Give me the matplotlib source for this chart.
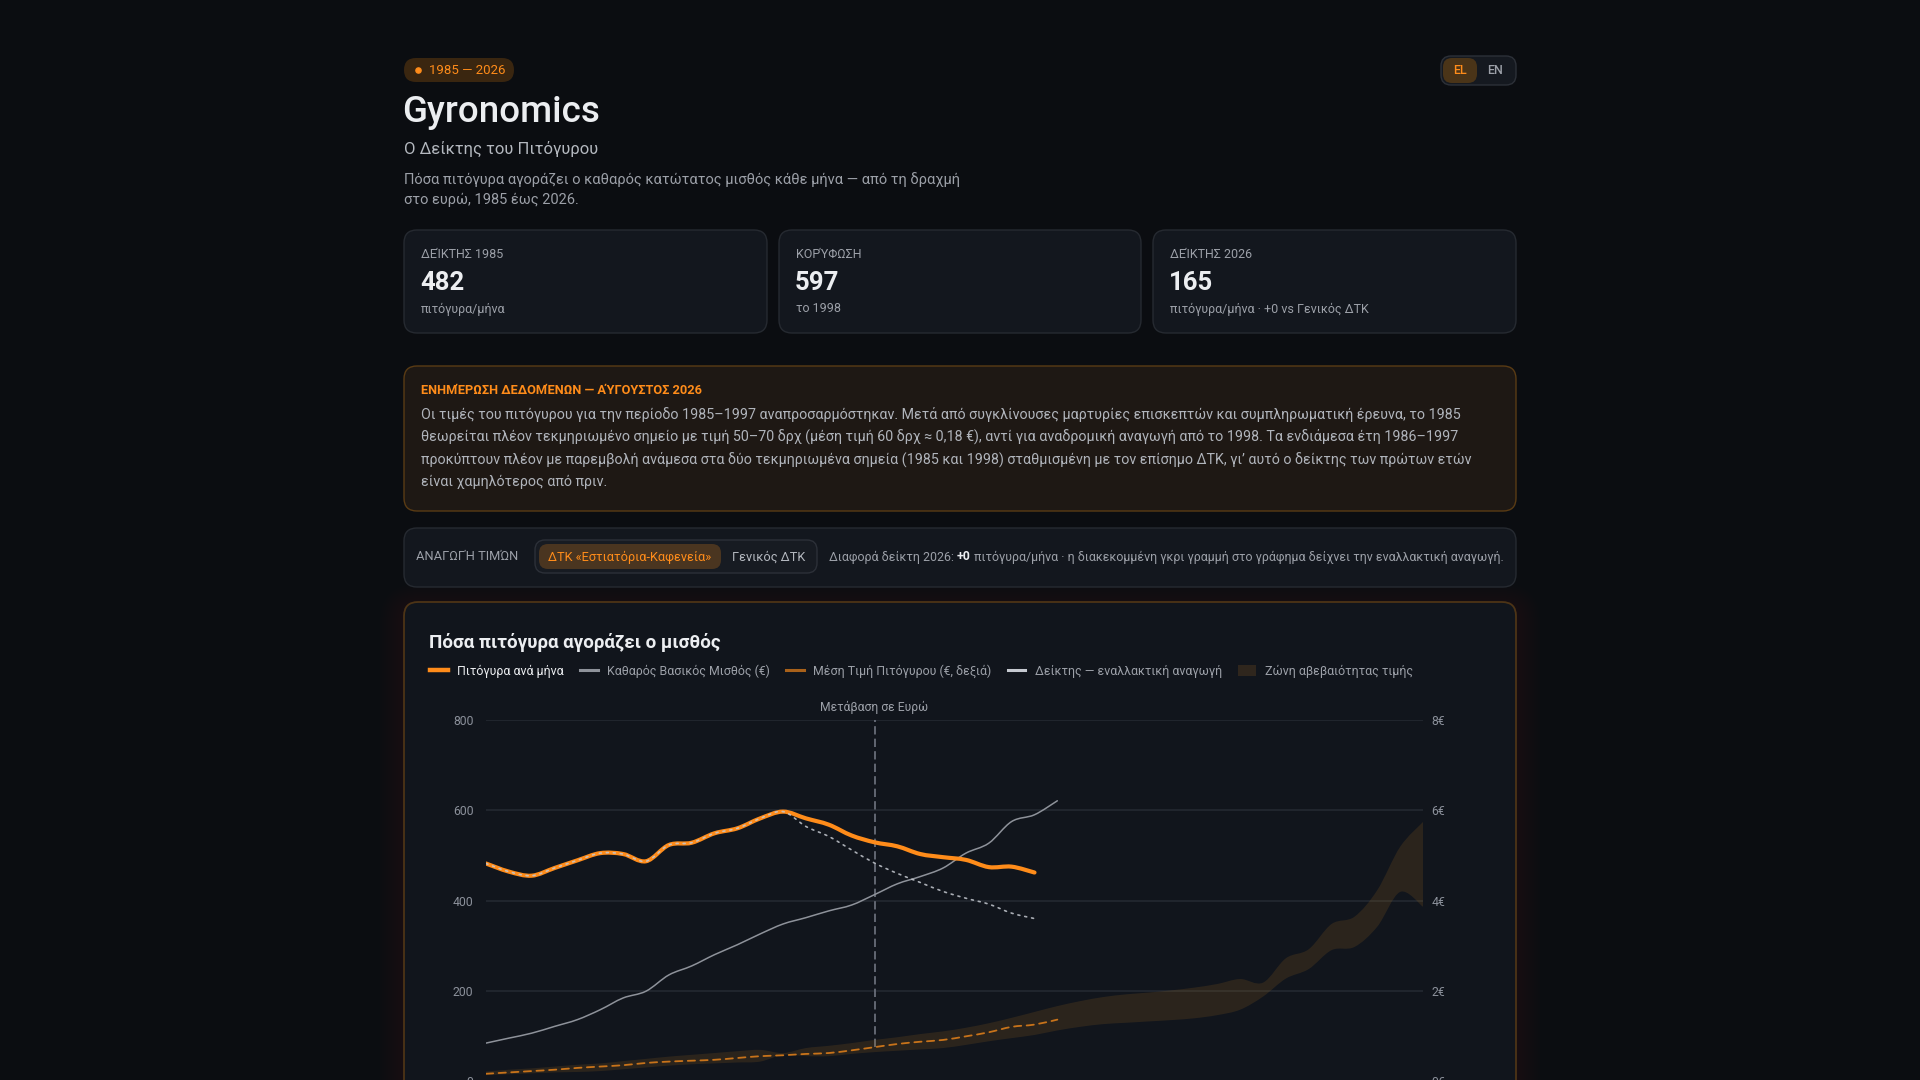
import numpy as np
import matplotlib.pyplot as plt
from matplotlib.patches import FancyBboxPatch, PathPatch, Patch
from matplotlib.lines import Line2D
from matplotlib.path import Path

plt.rcParams['font.family'] = ['Roboto', 'DejaVu Sans']

# -------------------------
# Data
# -------------------------
BAND_YEARS = list(range(1985, 2027))
INDEX_YEARS = list(range(1985, 2010))
SALARY_YEARS = list(range(1985, 2011))
PRICE_YEARS = list(range(1985, 2011))
EURO_YEAR = 2002

# pitogyra per month
index_values = [482, 464, 455, 472, 489, 505, 503, 487, 523, 528, 549, 560, 582,
                597, 582, 568, 544, 529, 520, 503, 496, 490, 474, 475, 462]
# alternative deflation (dotted grey)
alt_index_values = [482, 464, 455, 472, 489, 505, 503, 487, 523, 528, 549, 560, 582,
                    597, 564, 542, 512, 483, 460, 440, 420, 405, 392, 372, 360]
# net minimum wage (EUR, left axis)
salary_values = [84, 95, 106, 121, 136, 158, 184, 199, 235, 255, 280, 302, 326,
                 348, 362, 377, 390, 413, 437, 453, 472, 505, 527, 575, 590, 621]
# average gyro price (EUR, right axis)
price_values = [0.16, 0.19, 0.22, 0.25, 0.29, 0.32, 0.35, 0.40, 0.43, 0.45, 0.47, 0.51, 0.55,
                0.57, 0.60, 0.62, 0.68, 0.75, 0.82, 0.87, 0.91, 0.99, 1.08, 1.20, 1.25, 1.36]
# price uncertainty band (EUR, right axis)
band_upper = [0.21, 0.25, 0.28, 0.32, 0.36, 0.39, 0.44, 0.49, 0.54, 0.58,
              0.62, 0.66, 0.69, 0.62, 0.73, 0.78, 0.84, 0.91, 0.97, 1.04,
              1.10, 1.18, 1.28, 1.40, 1.53, 1.66, 1.77, 1.86, 1.92, 1.96,
              2.01, 2.07, 2.15, 2.26, 2.18, 2.72, 2.92, 3.48, 3.64, 4.23,
              5.19, 5.74]
band_lower = [0.13, 0.15, 0.17, 0.19, 0.20, 0.22, 0.26, 0.30, 0.34, 0.37,
              0.39, 0.41, 0.43, 0.58, 0.55, 0.55, 0.60, 0.64, 0.67, 0.70,
              0.73, 0.80, 0.88, 0.95, 1.02, 1.12, 1.20, 1.26, 1.29, 1.32,
              1.35, 1.39, 1.46, 1.58, 1.87, 2.27, 2.48, 2.90, 2.97, 3.42,
              4.19, 3.86]

left_ticks = [0, 200, 400, 600, 800]
right_ticks = [0, 2, 4, 6, 8]

stat_cards = [
    ("ΔΕΊΚΤΗΣ 1985", "482", "πιτόγυρα/μήνα"),
    ("ΚΟΡΎΦΩΣΗ", "597", "το 1998"),
    ("ΔΕΊΚΤΗΣ 2026", "165", "πιτόγυρα/μήνα · +0 vs Γενικός ΔΤΚ"),
]

notice_lines = [
    "Οι τιμές του πιτόγυρου για την περίοδο 1985–1997 αναπροσαρμόστηκαν. Μετά από συγκλίνουσες μαρτυρίες επισκεπτών και συμπληρωματική έρευνα, το 1985",
    "θεωρείται πλέον τεκμηριωμένο σημείο με τιμή 50–70 δρχ (μέση τιμή 60 δρχ ≈ 0,18 €), αντί για αναδρομική αναγωγή από το 1998. Τα ενδιάμεσα έτη 1986–1997",
    "προκύπτουν πλέον με παρεμβολή ανάμεσα στα δύο τεκμηριωμένα σημεία (1985 και 1998) σταθμισμένη με τον επίσημο ΔΤΚ, γι’ αυτό ο δείκτης των πρώτων ετών",
    "είναι χαμηλότερος από πριν.",
]

# -------------------------
# Colours
# -------------------------
BG = '#0b0d11'
CARD = '#13171e'
CARD_EDGE = '#262a31'
ORANGE = '#ff8c1a'
PRICE_C = '#c8731a'
GREY = '#8e929a'
ALT_C = '#c5c9d0'
TXT = '#eceef1'
MUTED = '#9ca0a8'


def smooth_path(xs, ys):
    """Catmull-Rom style cubic bezier through the points."""
    xs = np.asarray(xs, float)
    ys = np.asarray(ys, float)
    n = len(xs)
    verts = [(xs[0], ys[0])]
    codes = [Path.MOVETO]
    for i in range(n - 1):
        a = i - 1 if i > 0 else i
        d = i + 2 if i + 2 < n else i + 1
        c1 = (xs[i] + (xs[i + 1] - xs[a]) / 6, ys[i] + (ys[i + 1] - ys[a]) / 6)
        c2 = (xs[i + 1] - (xs[d] - xs[i]) / 6, ys[i + 1] - (ys[d] - ys[i]) / 6)
        verts += [c1, c2, (xs[i + 1], ys[i + 1])]
        codes += [Path.CURVE4] * 3
    return verts, codes


def add_curve(ax, xs, ys, **kw):
    verts, codes = smooth_path(xs, ys)
    ax.add_patch(PathPatch(Path(verts, codes), fill=False, capstyle='round',
                           joinstyle='round', **kw))


def rbox(ax, x0, y0, x1, y1, r, fc, ec='none', lw=1.0, z=1, alpha=1.0):
    ax.add_patch(FancyBboxPatch((x0, y0), x1 - x0, y1 - y0,
                                boxstyle=f"round,pad=0,rounding_size={r}",
                                fc=fc, ec=ec, lw=lw, zorder=z, alpha=alpha))


fig = plt.figure(figsize=(19.2, 10.8), dpi=100, facecolor=BG)
bg = fig.add_axes([0, 0, 1, 1])
bg.set_xlim(0, 1920)
bg.set_ylim(1080, 0)
bg.axis('off')
renderer = fig.canvas.get_renderer()


def text_run(x, y, parts, size):
    for s, color, weight in parts:
        t = bg.text(x, y, s, color=color, fontsize=size, fontweight=weight,
                    va='center', ha='left', zorder=5)
        x += t.get_window_extent(renderer).width


# -------------------------
# Header
# -------------------------
rbox(bg, 404, 58, 514, 82, 12, '#3a2610', z=2)
bg.scatter([418], [70], s=14, color=ORANGE, zorder=3)
bg.text(429, 70.5, "1985 — 2026", color=ORANGE, fontsize=9.5, va='center', zorder=3)

rbox(bg, 1441, 56, 1516, 85, 10, '#151920', '#2c3038', z=2)
rbox(bg, 1443, 58, 1477, 83, 9, '#4a3418', z=3)
bg.text(1460, 71, "EL", color=ORANGE, fontsize=9, fontweight='medium', ha='center', va='center', zorder=4)
bg.text(1495, 71, "EN", color=MUTED, fontsize=9, fontweight='medium', ha='center', va='center', zorder=4)

bg.text(402, 113, "Gyronomics", color=TXT, fontsize=26.5, fontweight='medium', va='center')
bg.text(404, 149, "Ο Δείκτης του Πιτόγυρου", color='#b4b8bf', fontsize=12, va='center')
bg.text(404, 180, "Πόσα πιτόγυρα αγοράζει ο καθαρός κατώτατος μισθός κάθε μήνα — από τη δραχμή",
        color=MUTED, fontsize=10.5, va='center')
bg.text(404, 200, "στο ευρώ, 1985 έως 2026.", color=MUTED, fontsize=10.5, va='center')

# stat cards
card_x = [(404, 767), (779, 1141), (1153, 1516)]
for (x0, x1), (lab, val, sub) in zip(card_x, stat_cards):
    rbox(bg, x0, 230, x1, 333, 13, CARD, CARD_EDGE, z=2)
    bg.text(x0 + 17, 255, lab, color=MUTED, fontsize=9, va='center', zorder=3)
    bg.text(x0 + 16, 283, val, color=TXT, fontsize=18.5, fontweight='bold', va='center', zorder=3)
    bg.text(x0 + 17, 309, sub, color=MUTED, fontsize=9, va='center', zorder=3)

# notice box
rbox(bg, 404, 366, 1516, 511, 13, '#1e1814', '#5a3b14', z=2)
bg.text(421, 391, "ΕΝΗΜΈΡΩΣΗ ΔΕΔΟΜΈΝΩΝ — ΑΎΓΟΥΣΤΟΣ 2026", color=ORANGE, fontsize=9.2,
        fontweight='bold', va='center', zorder=3)
for i, line in enumerate(notice_lines):
    bg.text(421, 414 + i * 22.5, line, color='#b0b4bb', fontsize=10.3, va='center', zorder=3)

# reduction toggle bar
rbox(bg, 404, 528, 1516, 587, 13, CARD, CARD_EDGE, z=2)
bg.text(416, 557, "ΑΝΑΓΩΓΉ ΤΙΜΏΝ", color=MUTED, fontsize=9.3, va='center', zorder=3)
rbox(bg, 535, 540, 817, 573, 10, '#171b22', '#2c3038', z=3)
rbox(bg, 539, 544, 721, 569, 9, '#4a3520', z=4)
bg.text(630, 557, "ΔΤΚ «Εστιατόρια-Καφενεία»", color=ORANGE, fontsize=9.2, ha='center',
        va='center', zorder=5)
bg.text(769, 557, "Γενικός ΔΤΚ", color='#b4b8bf', fontsize=9.2, ha='center', va='center', zorder=5)
text_run(829, 557, [("Διαφορά δείκτη 2026: ", MUTED, 'normal'),
                    ("+0", TXT, 'bold'),
                    (" πιτόγυρα/μήνα · η διακεκομμένη γκρι γραμμή στο γράφημα δείχνει την εναλλακτική αναγωγή.",
                     MUTED, 'normal')], 8.9)

# chart card with soft orange glow
for k in range(12, 0, -1):
    rbox(bg, 404 - 2 * k, 602 - 2 * k + 6, 1516 + 2 * k, 1120, 14 + 2 * k, '#e08a2a', z=1, alpha=0.007)
rbox(bg, 404, 602, 1516, 1120, 14, '#11151c', '#4d3416', lw=1.3, z=2)
bg.text(429, 642, "Πόσα πιτόγυρα αγοράζει ο μισθός", color=TXT, fontsize=13.5,
        fontweight='bold', va='center', zorder=3)

# -------------------------
# Chart
# -------------------------
ax = fig.add_axes([486 / 1920, -1 / 1080, 937 / 1920, 361 / 1080])
ax.set_facecolor('none')
ax.set_xlim(1985, 2026)
ax.set_ylim(0, 800)
ax.set_xticks([])
ax.set_yticks(left_ticks)
ax.grid(axis='y', color='#252a33', lw=1.1)
ax.set_axisbelow(True)
ax.tick_params(axis='y', length=0, pad=9, labelcolor='#8b909a', labelsize=8.8)
for s in ax.spines.values():
    s.set_visible(False)

ax2 = ax.twinx()
ax2.set_ylim(0, 8)
ax2.set_yticks(right_ticks)
ax2.set_yticklabels([f"{v}€" for v in right_ticks])
ax2.tick_params(axis='y', length=0, pad=6, labelcolor='#8b909a', labelsize=8.8)
for s in ax2.spines.values():
    s.set_visible(False)

# uncertainty band
uv, uc = smooth_path(BAND_YEARS, band_upper)
lv, lc = smooth_path(BAND_YEARS[::-1], band_lower[::-1])
lc[0] = Path.LINETO
band_path = Path(uv + lv + [uv[0]], uc + lc + [Path.CLOSEPOLY])
ax2.add_patch(PathPatch(band_path, fc='#b4761e', ec='none', alpha=0.16, zorder=1))

# price (dashed, right axis)
add_curve(ax2, PRICE_YEARS, price_values, ec=PRICE_C, lw=1.3, linestyle=(0, (4, 3)), zorder=3)

# euro transition marker
euro_price = price_values[PRICE_YEARS.index(EURO_YEAR)] * 100
ax.plot([EURO_YEAR, EURO_YEAR], [euro_price, left_ticks[-1]], color='#6f7480', lw=1.2,
        linestyle=(0, (5, 2.5)), zorder=2)
ax.annotate("Μετάβαση σε Ευρώ", (EURO_YEAR, left_ticks[-1]), xytext=(0, 9),
            textcoords='offset points', ha='center', va='center', color='#9ca0a8',
            fontsize=8.7, annotation_clip=False)

# salary + index lines
add_curve(ax, SALARY_YEARS, salary_values, ec=GREY, lw=1.1, zorder=4)
add_curve(ax, INDEX_YEARS, index_values, ec=ORANGE, lw=3.0, zorder=5)
add_curve(ax, INDEX_YEARS, alt_index_values, ec=ALT_C, lw=1.2, linestyle=(0, (1.2, 3)),
          zorder=6, alpha=0.85)

# legend
handles = [
    Line2D([], [], color=ORANGE, lw=3.2),
    Line2D([], [], color=GREY, lw=2.2),
    Line2D([], [], color='#a9611a', lw=2.2),
    Line2D([], [], color=ALT_C, lw=2.2),
    Patch(fc='#2f261d', ec='none'),
]
labels = ["Πιτόγυρα ανά μήνα", "Καθαρός Βασικός Μισθός (€)", "Μέση Τιμή Πιτόγυρου (€, δεξιά)",
          "Δείκτης — εναλλακτική αναγωγή", "Ζώνη αβεβαιότητας τιμής"]
leg = fig.legend(handles, labels, ncol=5, loc='center left',
                 bbox_to_anchor=(430 / 1920, 1 - 671 / 1080), frameon=False,
                 fontsize=8.9, handlelength=1.45, handleheight=1.0, handletextpad=0.75,
                 columnspacing=1.3, borderpad=0, borderaxespad=0)
for i, t in enumerate(leg.get_texts()):
    t.set_color(TXT if i == 0 else MUTED)

fig.savefig("out.png", dpi=100, facecolor=BG)
